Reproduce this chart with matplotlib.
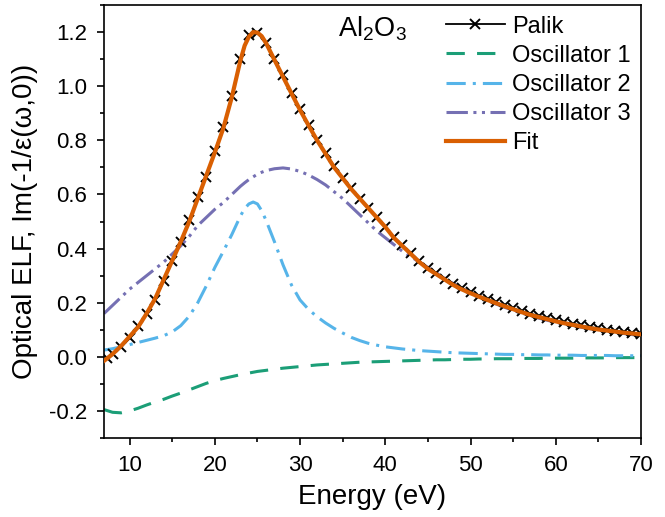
"""Optical ELF of Al2O3: Palik data with a three-oscillator fit."""

import numpy as np
import matplotlib
matplotlib.use("Agg")
import matplotlib.pyplot as plt
from matplotlib.ticker import MultipleLocator

plt.rcParams["font.family"] = ["Liberation Sans", "DejaVu Sans"]
plt.rcParams["mathtext.fontset"] = "custom"
plt.rcParams["mathtext.rm"] = "Liberation Sans"
plt.rcParams["mathtext.it"] = "Liberation Sans:italic"


# ============================================
# Data (eV, ELF)
# ============================================

palik_e = [7.3, 8, 9, 10, 11, 12, 13, 14, 15, 16, 17, 18, 19, 20, 21, 22, 23,
           24, 25, 26, 27, 28, 29, 30, 31, 32, 33, 34, 35, 36, 37, 38, 39, 40,
           41, 42, 43, 44, 45, 46, 47, 48, 49, 50, 51, 52, 53, 54, 55, 56, 57,
           58, 59, 60, 61, 62, 63, 64, 65, 66, 67, 68, 69, 70]
palik_elf = [-0.005, 0.012, 0.035, 0.07, 0.115, 0.16, 0.21, 0.28, 0.355, 0.425,
             0.505, 0.59, 0.665, 0.76, 0.85, 0.965, 1.10, 1.19, 1.198, 1.16,
             1.10, 1.04, 0.975, 0.915, 0.858, 0.80, 0.752, 0.705, 0.662, 0.622,
             0.585, 0.55, 0.515, 0.478, 0.443, 0.412, 0.382, 0.354, 0.328,
             0.308, 0.288, 0.27, 0.253, 0.239, 0.226, 0.213, 0.201, 0.19, 0.179,
             0.169, 0.16, 0.151, 0.143, 0.135, 0.128, 0.122, 0.116, 0.11, 0.105,
             0.10, 0.096, 0.092, 0.089, 0.086]

# energy grid for the oscillator curves and the fit
grid_e = [7, 8, 9, 10, 11, 12, 13, 14, 15, 16, 17, 18, 19, 20, 21, 22, 23,
          23.5, 24, 24.5, 25, 25.5, 26, 27, 28, 29, 30, 31, 32, 33, 34, 35, 36,
          37, 38, 39, 40, 41, 42, 43, 44, 45, 46, 47, 48, 49, 50, 51, 52, 53,
          54, 55, 56, 57, 58, 59, 60, 61, 62, 63, 64, 65, 66, 67, 68, 69, 70]

osc1 = [-0.195, -0.205, -0.207, -0.200, -0.190, -0.178, -0.167, -0.157,
        -0.145, -0.134, -0.122, -0.110, -0.098, -0.088, -0.080, -0.073,
        -0.066, -0.063, -0.060, -0.057, -0.054, -0.052, -0.050, -0.046,
        -0.042, -0.039, -0.036, -0.033, -0.030, -0.028, -0.026, -0.024,
        -0.022, -0.020, -0.019, -0.018, -0.017, -0.016, -0.015, -0.014,
        -0.013, -0.012, -0.011, -0.011, -0.010, -0.009, -0.009, -0.008,
        -0.008, -0.007, -0.007, -0.007, -0.006, -0.006, -0.006, -0.005,
        -0.005, -0.005, -0.005, -0.004, -0.004, -0.004, -0.004, -0.003,
        -0.003, -0.003, -0.003]

osc2 = [0.025, 0.030, 0.037, 0.045, 0.053, 0.061, 0.069, 0.078, 0.092, 0.115,
        0.150, 0.200, 0.262, 0.330, 0.390, 0.452, 0.520, 0.548, 0.565, 0.572,
        0.565, 0.540, 0.505, 0.425, 0.340, 0.265, 0.210, 0.175, 0.148, 0.125,
        0.105, 0.088, 0.072, 0.060, 0.050, 0.043, 0.037, 0.033, 0.029, 0.026,
        0.023, 0.021, 0.019, 0.017, 0.015, 0.014, 0.013, 0.012, 0.011, 0.010,
        0.009, 0.009, 0.008, 0.008, 0.007, 0.007, 0.006, 0.006, 0.006, 0.005,
        0.005, 0.005, 0.005, 0.004, 0.004, 0.004, 0.004]

osc3 = [0.160, 0.190, 0.220, 0.250, 0.275, 0.300, 0.325, 0.350, 0.380, 0.410,
        0.445, 0.485, 0.515, 0.545, 0.570, 0.600, 0.630, 0.643, 0.655, 0.665,
        0.675, 0.682, 0.688, 0.695, 0.698, 0.694, 0.685, 0.672, 0.655, 0.635,
        0.610, 0.585, 0.555, 0.525, 0.495, 0.465, 0.440, 0.415, 0.390, 0.370,
        0.350, 0.330, 0.310, 0.290, 0.270, 0.253, 0.237, 0.222, 0.208, 0.195,
        0.183, 0.172, 0.162, 0.152, 0.143, 0.135, 0.128, 0.121, 0.115, 0.109,
        0.104, 0.099, 0.094, 0.090, 0.086, 0.082, 0.079]

fit = [-0.015, 0.010, 0.040, 0.075, 0.110, 0.160, 0.215, 0.285, 0.355, 0.425,
       0.500, 0.585, 0.670, 0.755, 0.845, 0.960, 1.095, 1.150, 1.183, 1.200,
       1.198, 1.185, 1.160, 1.097, 1.035, 0.973, 0.912, 0.855, 0.800, 0.750,
       0.700, 0.660, 0.620, 0.585, 0.550, 0.515, 0.480, 0.440, 0.410, 0.380,
       0.350, 0.325, 0.305, 0.285, 0.265, 0.249, 0.235, 0.222, 0.210, 0.198,
       0.187, 0.176, 0.165, 0.155, 0.147, 0.139, 0.131, 0.124, 0.118, 0.112,
       0.106, 0.101, 0.097, 0.093, 0.089, 0.086, 0.083]


# ============================================
# Plot
# ============================================

fig = plt.figure(figsize=(6.65, 5.17), dpi=100)
ax = fig.add_axes([0.1564, 0.1528, 0.8075, 0.8375])

ax.plot(palik_e, palik_elf, color="black", lw=1.3, marker="x", ms=6.5,
        mew=1.4, label="Palik", zorder=3)
ax.plot(grid_e, osc1, color="#1b9e77", lw=2.2, dashes=(6, 4),
        label="Oscillator 1")
ax.plot(grid_e, osc2, color="#56b4e9", lw=2.2, dashes=(6.3, 2.3, 1, 2.3),
        label="Oscillator 2")
ax.plot(grid_e, osc3, color="#7570b3", lw=2.2,
        dashes=(7, 1.8, 1, 1.8, 1, 1.8), label="Oscillator 3")
ax.plot(grid_e, fit, color="#d95f02", lw=3.0, label="Fit", zorder=4)

ax.set_xlim(7, 70)
ax.set_ylim(-0.3, 1.3)
ax.xaxis.set_major_locator(MultipleLocator(10))
ax.xaxis.set_minor_locator(MultipleLocator(5))
ax.yaxis.set_major_locator(MultipleLocator(0.2))
ax.yaxis.set_minor_locator(MultipleLocator(0.1))
ax.yaxis.set_major_formatter(plt.FuncFormatter(lambda v, _: f"{v:.1f}"))

ax.tick_params(which="major", length=5, width=1.2, labelsize=16, pad=7)
ax.tick_params(which="minor", length=3, width=1.2)
for s in ax.spines.values():
    s.set_linewidth(1.2)

ax.set_xlabel("Energy (eV)", fontsize=20, labelpad=6)
ax.set_ylabel("Optical ELF, Im(-1/ε(ω,0))", fontsize=20, labelpad=8)

ax.text(0.436, 0.978, r"Al$_2$O$_3$", transform=ax.transAxes, fontsize=19.5,
        va="top", ha="left")

ax.legend(loc="upper right", frameon=False, fontsize=17, handlelength=2.5,
          handletextpad=0.3, labelspacing=0.3, borderaxespad=0.05,
          bbox_to_anchor=(1.0, 1.0))

fig.savefig("out.png", dpi=100)
